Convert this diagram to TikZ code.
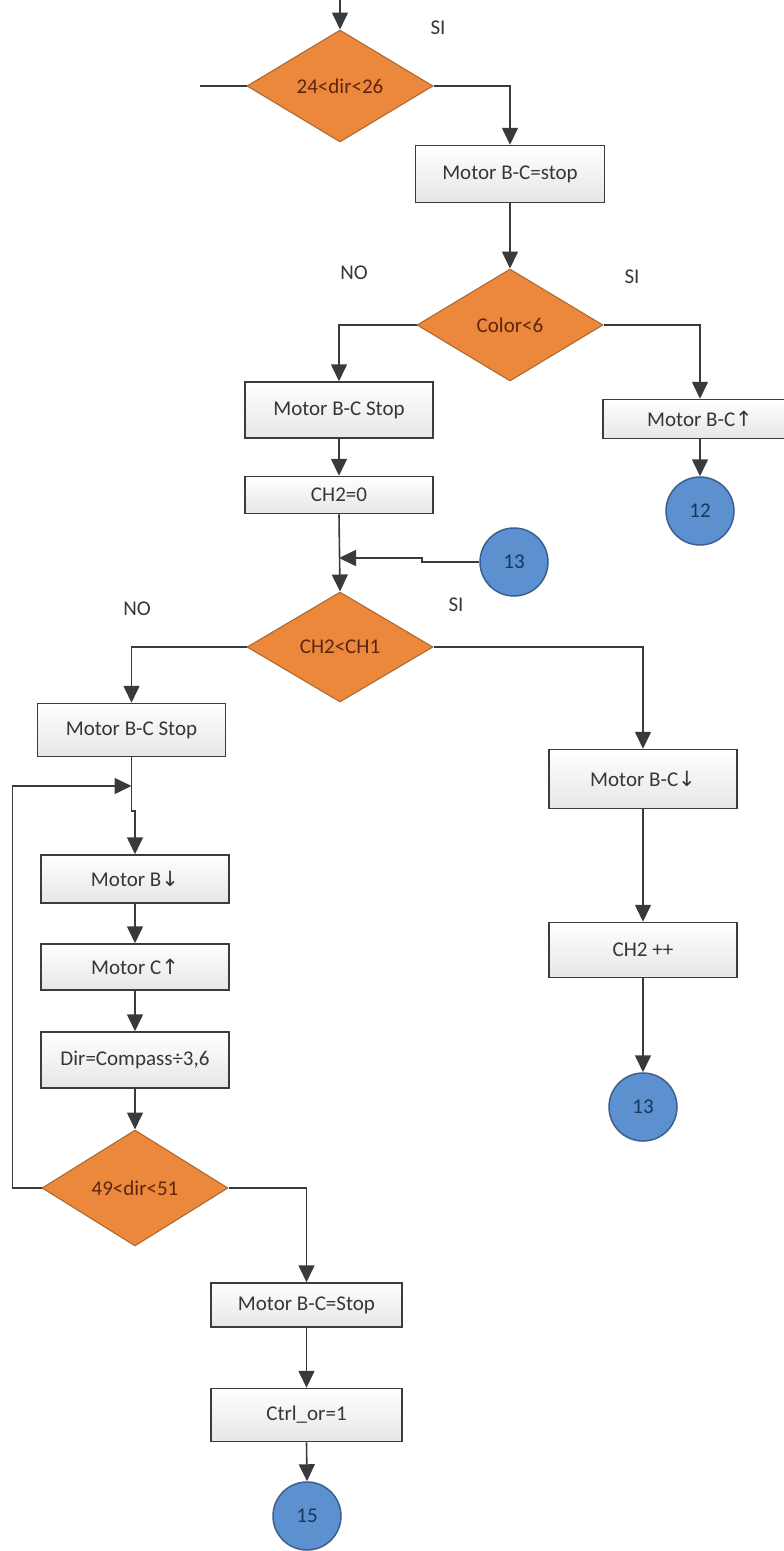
\documentclass[tikz,border=0pt]{standalone}
\usepackage{fontspec}
\setmainfont{Carlito}
\newfontfamily\symfont{DejaVu Sans}
\usetikzlibrary{shapes.geometric,arrows.meta}

\definecolor{boxline}{HTML}{3C3C3C}
\definecolor{boxshade}{HTML}{E6E6E6}
\definecolor{txt}{HTML}{363636}
\definecolor{decfill}{HTML}{EB883C}
\definecolor{decline}{HTML}{A8652E}
\definecolor{dectext}{HTML}{5E2410}
\definecolor{circfill}{HTML}{5C90CF}
\definecolor{circline}{HTML}{3B5F8E}
\definecolor{circtext}{HTML}{17375E}
\definecolor{lineclr}{HTML}{3A3A3A}

\begin{document}
\begin{tikzpicture}[x=1pt,y=-1pt,
  every node/.style={font=\fontsize{21}{25}\selectfont},
  flowbox/.style={rectangle, draw=boxline, line width=1.5pt, top color=white,
    bottom color=boxshade, minimum width=188pt, inner sep=0pt, text=txt},
  decision/.style={diamond, draw=decline, line width=1pt, fill=decfill,
    minimum width=186pt, minimum height=112pt, inner sep=0pt, text=dectext},
  connector/.style={circle, draw=circline, line width=1.5pt, fill=circfill,
    minimum size=68pt, inner sep=0pt, text=circtext},
  flow/.style={draw=lineclr, line width=1.6pt},
  arr/.style={flow, -{Triangle[length=17pt,width=16pt]}},
  tag/.style={text=txt}]

\useasboundingbox (0,0) rectangle (784,1551);
\clip (0,0) rectangle (784,1551);

% decisions, actions and off-page connectors
\node[decision] (d1) at (340,86) {24<dir<26};
\node[flowbox, minimum width=189pt, minimum height=57pt] (b1) at (510,174) {Motor B-C=stop};
\node[decision] (d2) at (510,325) {Color<6};
\node[flowbox, minimum height=56pt] (b2) at (339,410) {Motor B-C Stop};
\node[flowbox, minimum height=37pt] (b3) at (339,495) {CH2=0};
\node[flowbox, minimum width=194pt, minimum height=39pt] (b4) at (700,419) {Motor B-C{\symfont ↑}};
\node[connector] (c12) at (700,511) {12};
\node[connector] (c13a) at (514,562) {13};
\node[decision, minimum height=110pt] (d3) at (340,647) {CH2<CH1};
\node[flowbox, minimum height=53pt] (b5) at (131.5,730) {Motor B-C Stop};
\node[flowbox, minimum height=48pt] (b6) at (135,879) {Motor B{\symfont ↓}};
\node[flowbox, minimum height=46pt] (b7) at (135,967) {Motor C{\symfont ↑}};
\node[flowbox, minimum height=56pt] (b8) at (135,1060) {Dir=Compass÷3,6};
\node[decision, minimum height=116pt] (d4) at (135,1188) {49<dir<51};
\node[flowbox, minimum width=191pt, minimum height=44pt] (b9) at (306.5,1305) {Motor B-C=Stop};
\node[flowbox, minimum width=191pt, minimum height=53pt] (b10) at (306.5,1415) {Ctrl\_or=1};
\node[connector] (c15) at (307,1516) {15};
\node[flowbox, minimum height=59pt] (b11) at (643,779) {Motor B-C{\symfont ↓}};
\node[flowbox, minimum height=55pt] (b12) at (643,950) {CH2 ++};
\node[connector] (c13b) at (643,1107) {13};

% branch labels
\node[tag] (si1) at (438,28) {SI};
\node[tag] (no2) at (354,273) {NO};
\node[tag] (si2) at (632,277) {SI};
\node[tag] (no3) at (137,609) {NO};
\node[tag] (si3) at (456,605) {SI};

% free ends and junctions
\coordinate (top) at (340,0);
\coordinate (leftin) at (200,86);
\coordinate (j1) at (339,558);
\coordinate (j2) at (131.5,786);

% connectors
\draw[arr] (top) -- (d1.north);
\draw[flow] (leftin) -- (d1.west);
\draw[arr] (d1.east) -| (b1.north);
\draw[arr] (b1.south) -- (d2.north);
\draw[arr] (d2.west) -| (b2.north);
\draw[arr] (d2.east) -| (b4.north);
\draw[arr] (b2.south) -- (b3.north);
\draw[arr] (b4.south) -- (c12.north);
\draw[arr] (b3.south) -- (d3.north);
\draw[arr] (c13a.west) -- ++(-57,0) |- (j1);
\draw[arr] (d3.west) -| (b5.north);
\draw[arr] (d3.east) -| (b11.north);
\draw[arr] (b5.south) -- ++(0,54) -| (b6.north);
\draw[arr] (d4.west) -- ++(-29,0) |- (j2);
\draw[arr] (b6.south) -- (b7.north);
\draw[arr] (b7.south) -- (b8.north);
\draw[arr] (b8.south) -- (d4.north);
\draw[arr] (d4.east) -| (b9.north);
\draw[arr] (b9.south) -- (b10.north);
\draw[arr] (b10.south) -- (c15.north);
\draw[arr] (b11.south) -- (b12.north);
\draw[arr] (b12.south) -- (c13b.north);
\end{tikzpicture}
\end{document}
